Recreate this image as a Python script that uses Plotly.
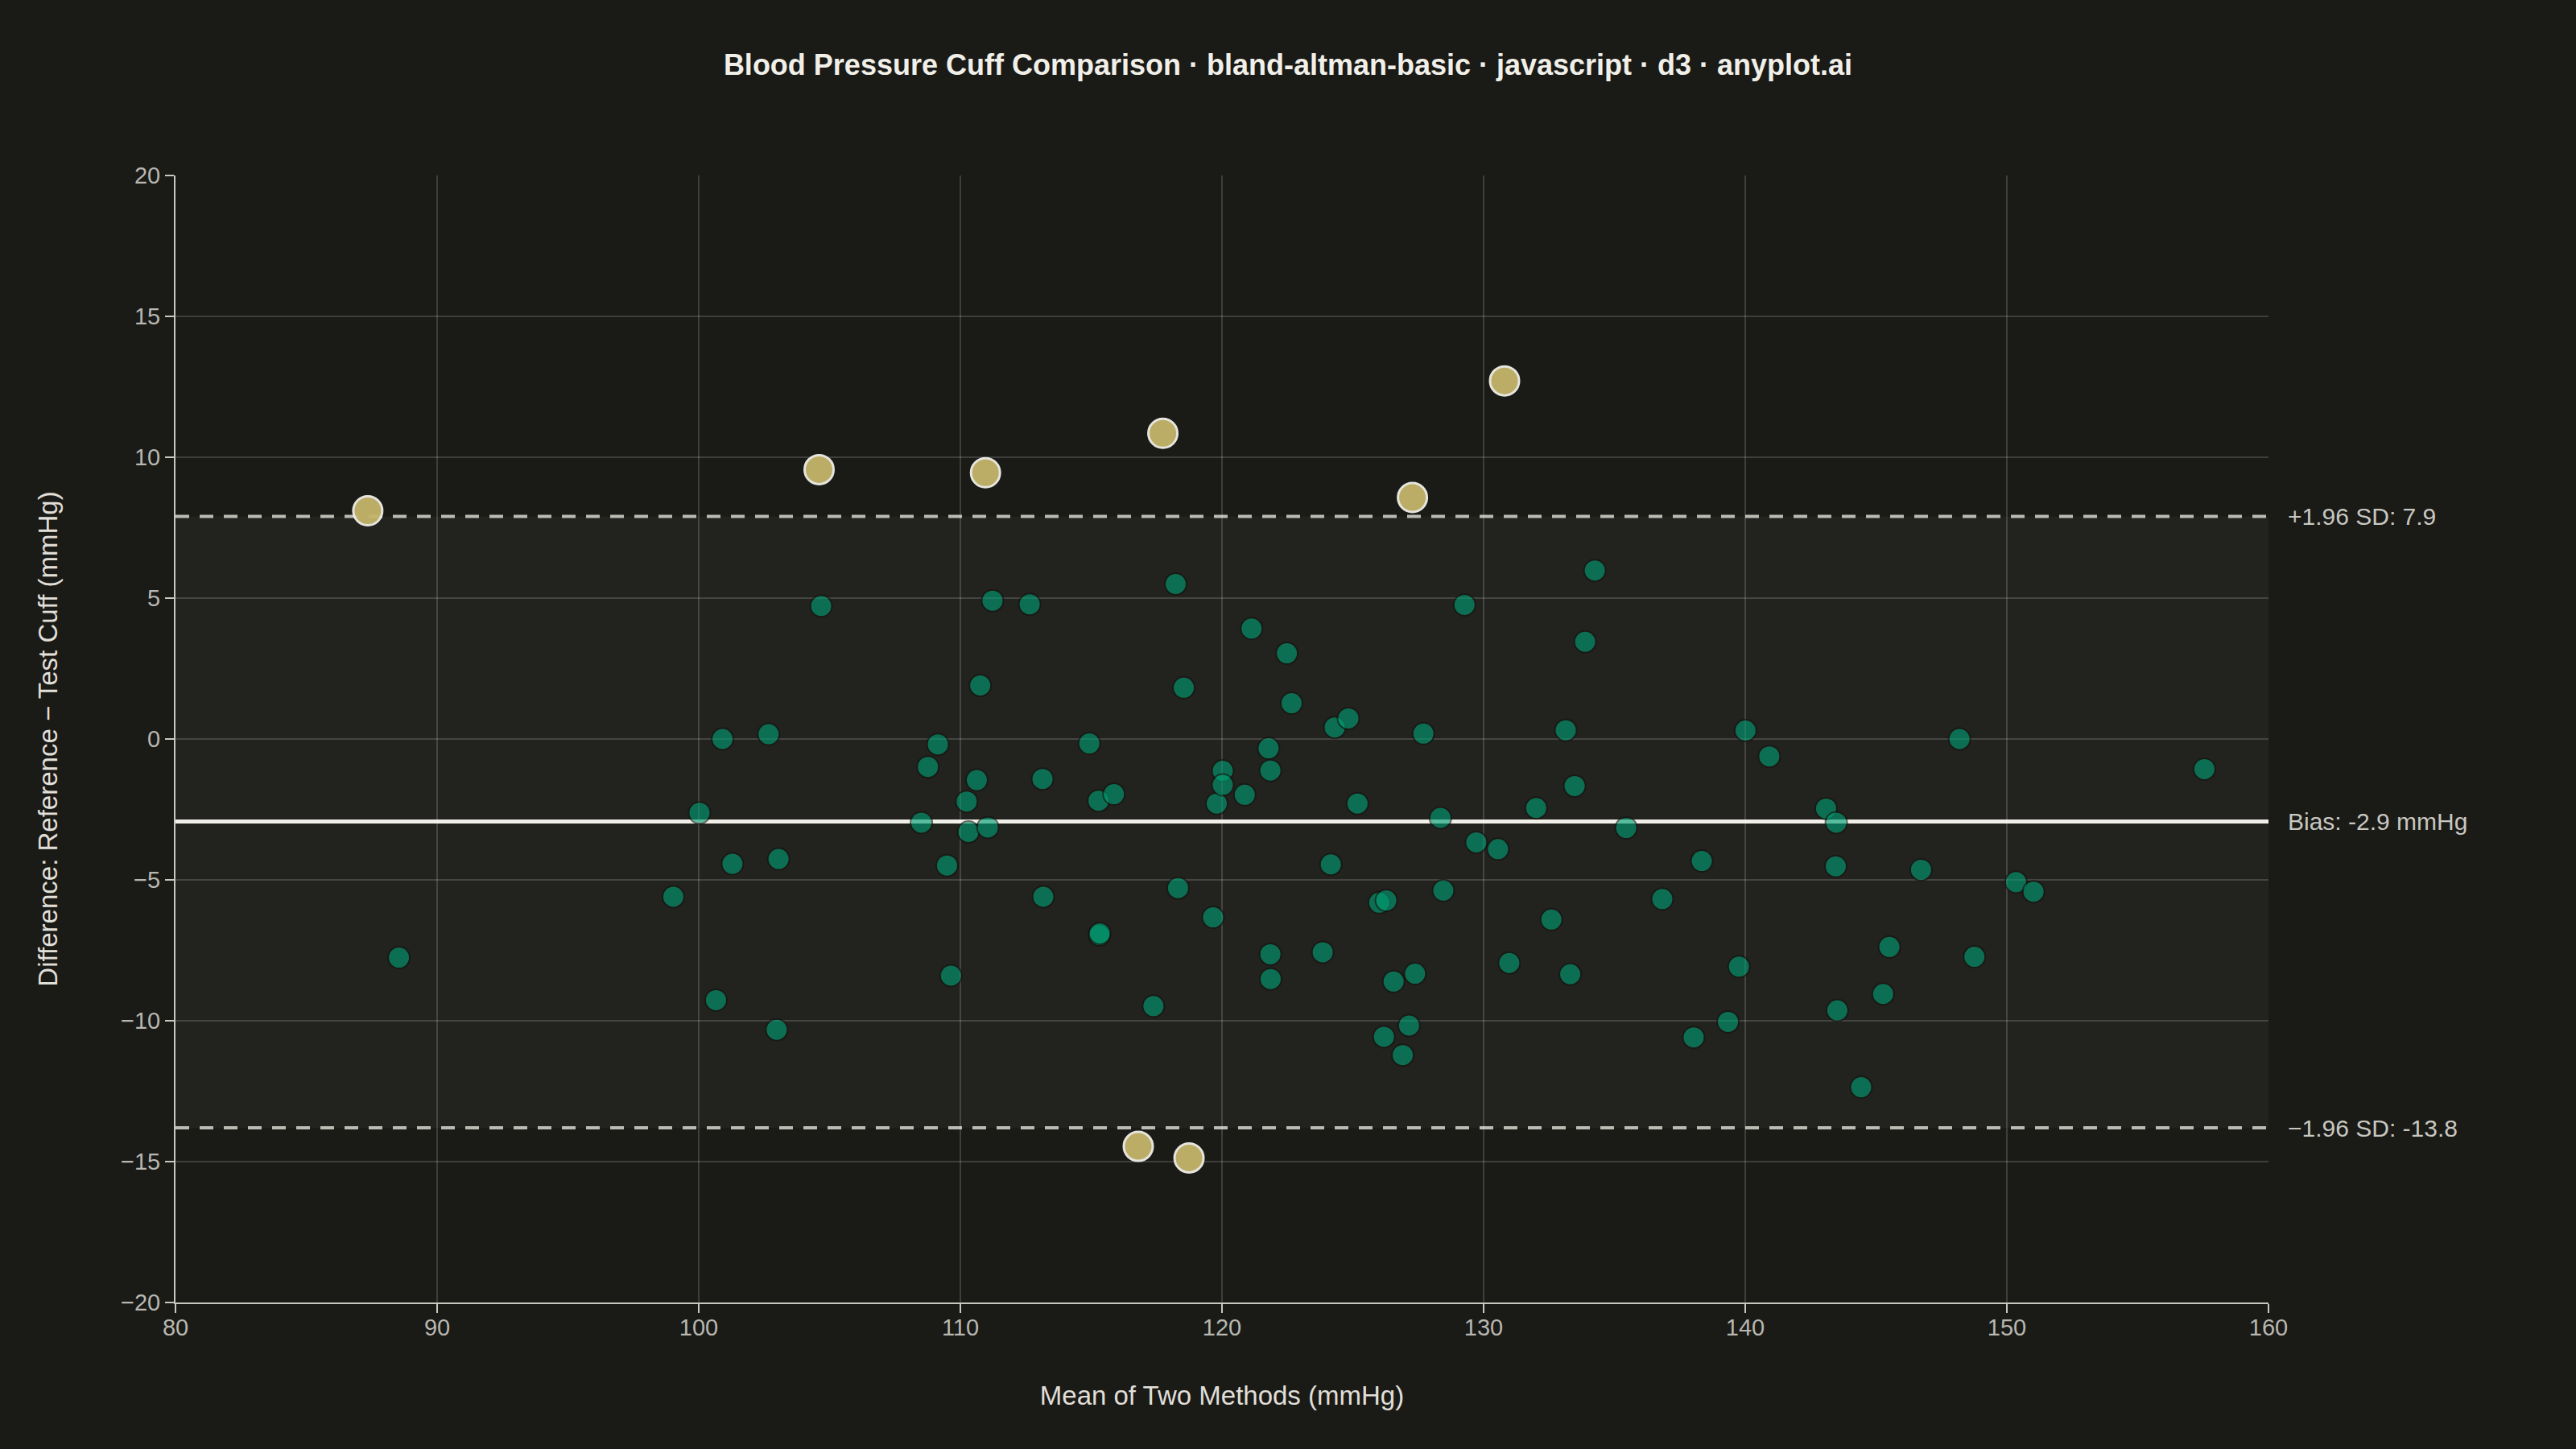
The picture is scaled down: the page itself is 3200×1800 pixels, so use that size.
import plotly.graph_objects as go

# mean of the two cuffs (mmHg) and difference reference - test (mmHg)
mean_bp = [
    87.35, 104.6, 110.96, 117.74, 130.8, 127.28, 116.8, 118.74,
    88.54, 99.03, 100.03, 100.91, 100.66, 101.29, 102.67, 103.05, 102.98, 104.68,
    108.51, 108.76, 109.14, 109.49, 109.64, 110.24, 110.31, 110.63, 110.76, 111.05,
    111.23, 112.65, 113.14, 113.17, 114.93, 115.28, 115.31, 115.33, 115.87, 117.38,
    118.23, 118.32, 118.54, 119.66, 119.8, 120.03, 120.03, 120.87, 121.13, 121.78,
    121.85, 121.85, 121.86, 122.48, 122.66, 123.85, 124.16, 124.31, 124.83, 125.18,
    126.01, 126.28, 126.19, 126.56, 126.91, 127.15, 127.38, 127.7, 128.35, 128.46,
    129.27, 129.72, 130.55, 130.98, 132.01, 132.59, 133.14, 133.31, 133.48, 133.88,
    134.25, 135.45, 136.83, 138.34, 138.03, 139.34, 139.76, 140.01, 140.92, 143.09,
    143.48, 143.46, 143.52, 144.43, 145.27, 145.51, 146.72, 148.19, 148.76, 150.35,
    151.02, 157.55,
]
diff_bp = [
    8.1, 9.56, 9.45, 10.85, 12.71, 8.57, -14.46, -14.87,
    -7.76, -5.6, -2.62, 0.0, -9.27, -4.43, 0.17, -4.26, -10.32, 4.72,
    -2.97, -0.99, -0.19, -4.49, -8.4, -2.22, -3.3, -1.46, 1.9, -3.14,
    4.91, 4.78, -1.42, -5.6, -0.16, -2.19, -6.96, -6.9, -1.96, -9.48,
    5.5, -5.29, 1.82, -6.33, -2.29, -1.13, -1.63, -1.98, 3.92, -0.33,
    -1.12, -7.64, -8.52, 3.04, 1.27, -7.57, -4.45, 0.41, 0.73, -2.29,
    -5.81, -5.73, -10.57, -8.61, -11.22, -10.17, -8.33, 0.19, -2.8, -5.38,
    4.76, -3.67, -3.91, -7.95, -2.45, -6.41, 0.31, -8.35, -1.67, 3.45,
    5.98, -3.16, -5.68, -4.33, -10.59, -10.04, -8.08, 0.3, -0.62, -2.47,
    -2.97, -4.52, -9.63, -12.36, -9.05, -7.38, -4.64, 0.0, -7.73, -5.08,
    -5.42, -1.07,
]

bias = -2.93
loa_upper = 7.9
loa_lower = -13.8

x_ticks = [80, 90, 100, 110, 120, 130, 140, 150, 160]
y_ticks = [-20, -15, -10, -5, 0, 5, 10, 15, 20]

BG = "#1a1a17"
INK = "#f0efe8"
MUTED = "#b8b7b0"
FONT = "Liberation Sans, Arial, sans-serif"

inside = [(m, d) for m, d in zip(mean_bp, diff_bp) if loa_lower <= d <= loa_upper]
outside = [(m, d) for m, d in zip(mean_bp, diff_bp) if d < loa_lower or d > loa_upper]

fig = go.Figure()

fig.add_trace(go.Scatter(
    x=[p[0] for p in inside],
    y=[p[1] for p in inside],
    mode="markers",
    marker=dict(size=27, color="#009E73", opacity=0.62,
                line=dict(color="#15150f", width=2)),
    showlegend=False,
))
fig.add_trace(go.Scatter(
    x=[p[0] for p in outside],
    y=[p[1] for p in outside],
    mode="markers",
    marker=dict(size=36, color="#c4b56a", opacity=0.95,
                line=dict(color=INK, width=3)),
    showlegend=False,
))

# agreement band and reference lines
fig.add_shape(type="rect", xref="paper", x0=0, x1=1, y0=loa_lower, y1=loa_upper,
              fillcolor="rgba(255,255,255,0.035)", line_width=0, layer="below")
fig.add_shape(type="line", xref="paper", x0=0, x1=1, y0=bias, y1=bias,
              line=dict(color=INK, width=5), layer="below")
for lim in (loa_upper, loa_lower):
    fig.add_shape(type="line", xref="paper", x0=0, x1=1, y0=lim, y1=lim,
                  line=dict(color="#bcbcb5", width=4, dash="17px,13px"), layer="below")

labels = [
    (loa_upper, "+1.96 SD: 7.9"),
    (bias, "Bias: -2.9 mmHg"),
    (loa_lower, "\u22121.96 SD: -13.8"),
]
for yv, txt in labels:
    fig.add_annotation(x=1, xref="paper", y=yv, yref="y", text=txt,
                       showarrow=False, xanchor="left", xshift=22,
                       font=dict(family=FONT, size=30, color="#c8c7c0"))

fig.update_layout(
    width=3200,
    height=1800,
    paper_bgcolor=BG,
    plot_bgcolor=BG,
    margin=dict(l=218, r=382, t=218, b=182),
    font=dict(family=FONT, color=MUTED),
    title=dict(
        text="<b>Blood Pressure Cuff Comparison · bland-altman-basic · javascript · d3 · anyplot.ai</b>",
        x=0.5, xref="container", xanchor="center",
        y=1 - 80 / 1800, yref="container", yanchor="middle",
        font=dict(family=FONT, size=36, color=INK),
    ),
    xaxis=dict(
        range=[80, 160], tickvals=x_ticks,
        showgrid=True, gridcolor="rgba(255,255,255,0.16)", gridwidth=2,
        zeroline=False, showline=True, linecolor="#c8c7c0", linewidth=2,
        ticks="outside", ticklen=11, tickwidth=2, tickcolor="#c8c7c0",
        ticklabelstandoff=-7,
        tickfont=dict(size=29, color=MUTED),
        title=dict(text="Mean of Two Methods (mmHg)", standoff=58,
                   font=dict(size=33, color="#e0dfd8")),
    ),
    yaxis=dict(
        range=[-20, 20], tickvals=y_ticks,
        showgrid=True, gridcolor="rgba(255,255,255,0.16)", gridwidth=2,
        zeroline=False, showline=True, linecolor="#c8c7c0", linewidth=2,
        ticks="outside", ticklen=11, tickwidth=2, tickcolor="#c8c7c0",
        tickfont=dict(size=29, color=MUTED),
        title=dict(text="Difference: Reference \u2212 Test Cuff (mmHg)", standoff=68,
                   font=dict(size=33, color="#e0dfd8")),
    ),
)

# drop the browser's default page margin so the figure fills the window
fig.write_html("out.html", config={"displayModeBar": False},
               post_script="document.body.style.margin='0';")
